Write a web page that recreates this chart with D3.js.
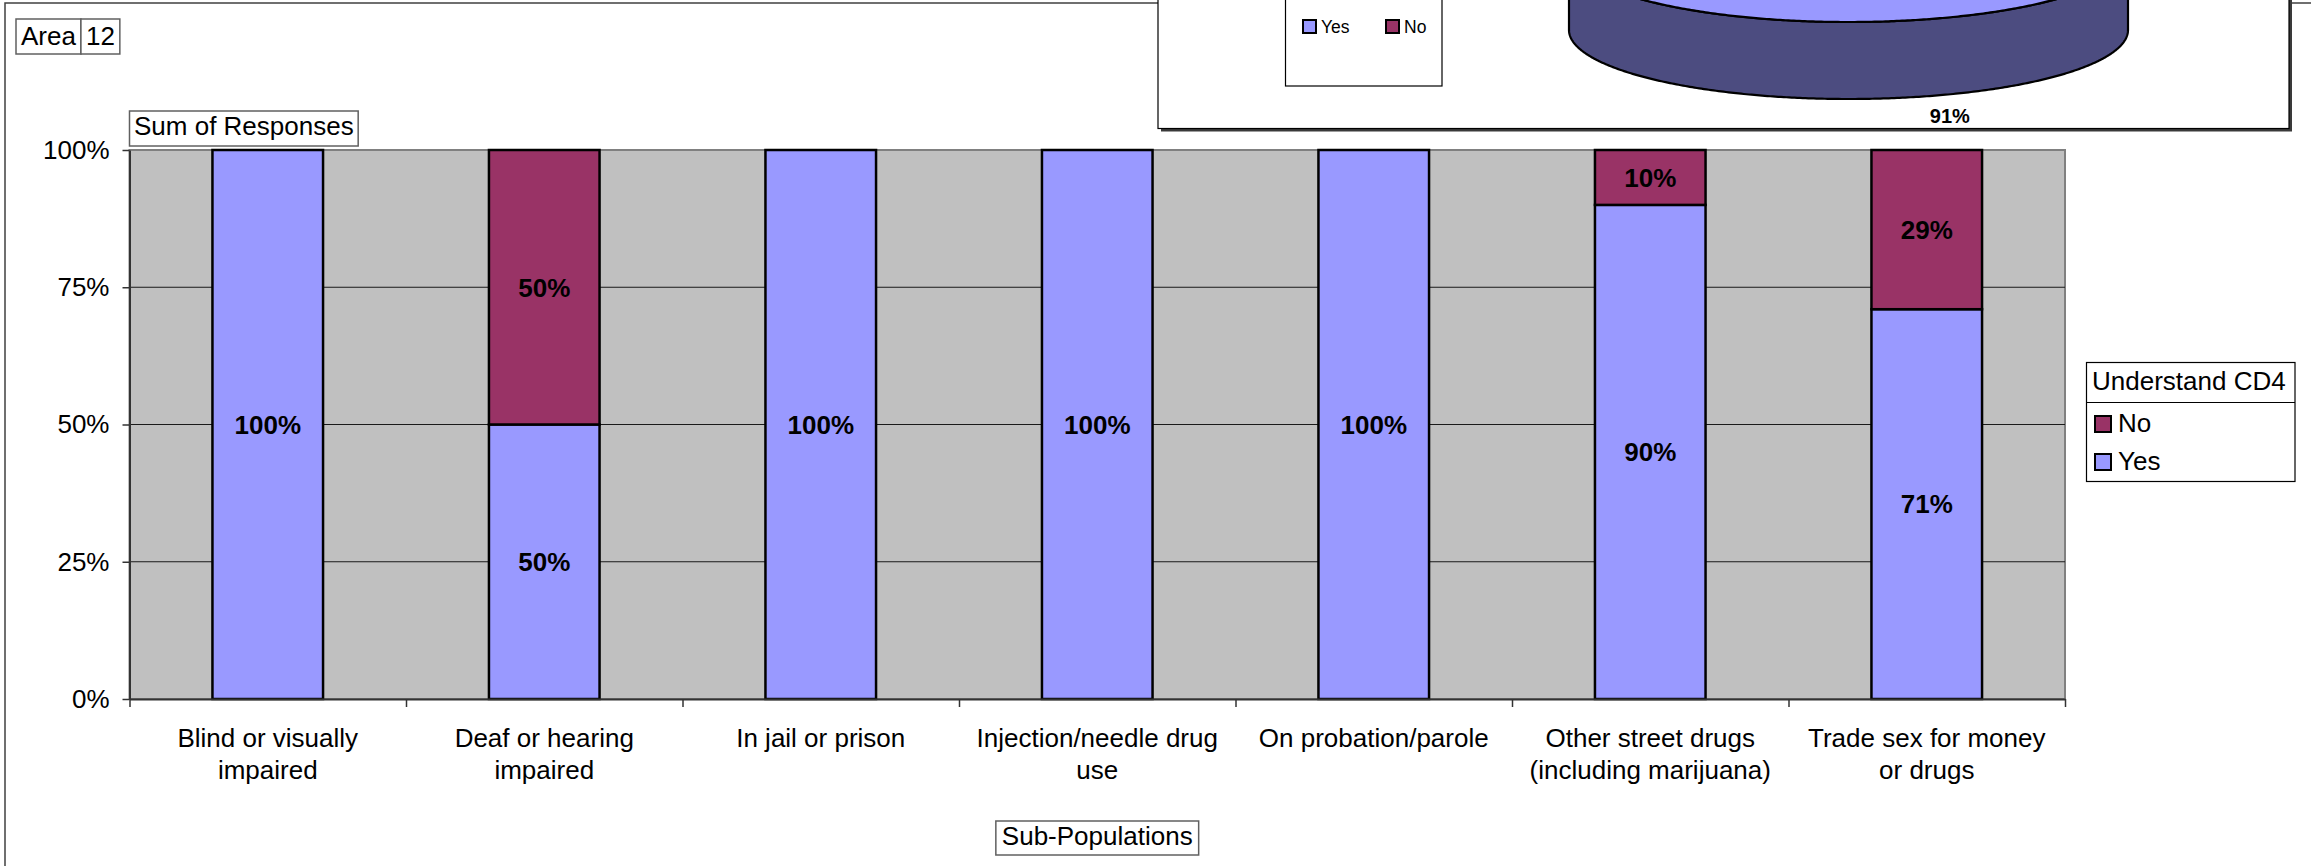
<!DOCTYPE html>
<html>
<head>
<meta charset="utf-8">
<script src="https://cdn.jsdelivr.net/npm/d3@7"></script>
<style>
  body { margin: 0; background: #fff; }
  svg { display: block; }
  text { font-family: "Liberation Sans", Arial, sans-serif; fill: #000; }
</style>
</head>
<body>
<svg id="chart" width="2311" height="866"></svg>
<script>
// ---- data ----
const categories = [
  "Blind or visually impaired",
  "Deaf or hearing impaired",
  "In jail or prison",
  "Injection/needle drug use",
  "On probation/parole",
  "Other street drugs (including marijuana)",
  "Trade sex for money or drugs"
];
const seriesKeys = ["Yes", "No"];
const yesValues = [100, 50, 100, 100, 100, 90, 71];
const noValues  = [0, 50, 0, 0, 0, 10, 29];
const yTicks = [0, 25, 50, 75, 100];
const seriesColors = ["#9999FF", "#993366"];

// summary pie (all respondents)
const pieLabels = ["Yes", "No"];
const pieValues = [91, 9];
const pieSideColors = ["#4C4C80", "#4D1A33"];

const pageField = ["Area", "12"];
const legendTitle = "Understand CD4";
const dataFieldTitle = "Sum of Responses";
const axisFieldTitle = "Sub-Populations";

// ---- layout ----
const svg = d3.select("#chart");
const W = 2311, H = 866;
const plot = { left: 129.5, right: 2065, top: 150, bottom: 699 };
const FONT = 26;

svg.append("rect").attr("width", W).attr("height", H).attr("fill", "#fff");

// outer chart frame
svg.append("rect")
  .attr("x", 5).attr("y", 3).attr("width", W + 10).attr("height", H + 10)
  .attr("fill", "none").attr("stroke", "#404040").attr("stroke-width", 1.5);

const rows = categories.map((c, i) => ({ cat: c, Yes: yesValues[i], No: noValues[i] }));
const stacked = d3.stack().keys(seriesKeys)(rows);

const x = d3.scaleBand().domain(categories)
  .range([plot.left, plot.right]).paddingInner(0.6).paddingOuter(0.3);
const xEdge = d3.scaleLinear().domain([0, categories.length]).range([plot.left, plot.right]);
const y = d3.scaleLinear().domain([0, 100]).range([plot.bottom, plot.top]);

// plot area
svg.append("rect")
  .attr("x", plot.left).attr("y", plot.top)
  .attr("width", plot.right - plot.left).attr("height", plot.bottom - plot.top)
  .attr("fill", "#C0C0C0").attr("stroke", "#808080").attr("stroke-width", 2);

// gridlines
svg.append("g").selectAll("line")
  .data(yTicks.filter(t => t > 0 && t < 100))
  .join("line")
  .attr("x1", plot.left).attr("x2", plot.right)
  .attr("y1", d => y(d)).attr("y2", d => y(d))
  .attr("stroke", "#1a1a1a").attr("stroke-width", 1.2);

// stacked bars
const layers = svg.append("g").selectAll("g")
  .data(stacked).join("g")
  .attr("fill", (d, i) => seriesColors[i]);

layers.selectAll("rect")
  .data(d => d.filter(s => s[1] - s[0] > 0))
  .join("rect")
  .attr("x", d => x(d.data.cat))
  .attr("width", x.bandwidth())
  .attr("y", d => y(d[1]))
  .attr("height", d => y(d[0]) - y(d[1]))
  .attr("stroke", "#000").attr("stroke-width", 2.5);

// segment value labels
layers.selectAll("text")
  .data(d => d.filter(s => s[1] - s[0] > 0))
  .join("text")
  .attr("x", d => x(d.data.cat) + x.bandwidth() / 2)
  .attr("y", d => (y(d[0]) + y(d[1])) / 2)
  .attr("dy", "0.36em")
  .attr("text-anchor", "middle")
  .attr("font-size", FONT).attr("font-weight", "bold")
  .style("fill", "#000")
  .text(d => Math.round(d[1] - d[0]) + "%");

// y axis
const yAxis = svg.append("g")
  .attr("transform", `translate(${plot.left},0)`)
  .call(d3.axisLeft(y).tickValues(yTicks).tickFormat(d => d + "%")
    .tickSize(7).tickSizeOuter(0).tickPadding(13));
yAxis.select(".domain").attr("stroke", "#333").attr("stroke-width", 2);
yAxis.selectAll(".tick line").attr("stroke", "#333").attr("stroke-width", 1.5);
yAxis.selectAll("text").attr("font-size", FONT)
  .attr("font-family", "Liberation Sans, Arial, sans-serif").style("fill", "#000");

// x axis (tick marks at category boundaries)
const xAxis = svg.append("g")
  .attr("transform", `translate(0,${plot.bottom})`)
  .call(d3.axisBottom(xEdge).tickValues(d3.range(categories.length + 1))
    .tickFormat("").tickSize(8).tickSizeOuter(0));
xAxis.select(".domain").attr("stroke", "#333").attr("stroke-width", 2);
xAxis.selectAll(".tick line").attr("stroke", "#333").attr("stroke-width", 1.5);

// category labels, wrapped to the category width
const maxLabelWidth = 258;
const catLabels = svg.append("g").selectAll("text")
  .data(categories).join("text")
  .attr("text-anchor", "middle")
  .attr("font-size", FONT)
  .attr("x", d => x(d) + x.bandwidth() / 2)
  .attr("y", plot.bottom + 48);

catLabels.each(function (d) {
  const t = d3.select(this);
  const cx = x(d) + x.bandwidth() / 2;
  const words = d.split(" ");
  let line = [];
  let tspan = t.append("tspan").attr("x", cx).attr("dy", 0);
  words.forEach(w => {
    line.push(w);
    tspan.text(line.join(" "));
    if (tspan.node().getComputedTextLength() > maxLabelWidth && line.length > 1) {
      line.pop();
      tspan.text(line.join(" "));
      line = [w];
      tspan = t.append("tspan").attr("x", cx).attr("dy", 32).text(w);
    }
  });
});

// boxed field labels
function fieldBox(parts, x0, baseline, padX, boxTop, boxH) {
  const g = svg.append("g");
  let cur = x0;
  parts.forEach(p => {
    const t = g.append("text").attr("x", cur + padX).attr("y", baseline)
      .attr("font-size", FONT).text(p);
    const w = t.node().getComputedTextLength();
    g.insert("rect", "text")
      .attr("x", cur).attr("y", boxTop)
      .attr("width", w + padX * 2).attr("height", boxH)
      .attr("fill", "#fff").attr("stroke", "#606060").attr("stroke-width", 1.5);
    cur += w + padX * 2;
  });
  return g;
}
fieldBox(pageField, 16, 45, 5, 19, 35);
fieldBox([dataFieldTitle], plot.left, 135, 4.5, 111, 35);
// axis field title centred under the plot
(function () {
  const g = svg.append("g");
  const cx = (plot.left + plot.right) / 2;
  const t = g.append("text").attr("x", cx).attr("y", 845)
    .attr("text-anchor", "middle").attr("font-size", FONT).text(axisFieldTitle);
  const w = t.node().getComputedTextLength();
  g.insert("rect", "text")
    .attr("x", cx - w / 2 - 6).attr("y", 821)
    .attr("width", w + 12).attr("height", 34)
    .attr("fill", "#fff").attr("stroke", "#606060").attr("stroke-width", 1.5);
})();

// series legend
const lg = svg.append("g");
lg.append("rect").attr("x", 2086.5).attr("y", 362.5).attr("width", 208.5).attr("height", 119)
  .attr("fill", "#fff").attr("stroke", "#000").attr("stroke-width", 1.2);
lg.append("line").attr("x1", 2086.5).attr("x2", 2295).attr("y1", 402.5).attr("y2", 402.5)
  .attr("stroke", "#000").attr("stroke-width", 1.2);
lg.append("text").attr("x", 2092).attr("y", 390).attr("font-size", FONT).text(legendTitle);
const legendItems = seriesKeys.map((k, i) => ({ key: k, color: seriesColors[i] })).reverse();
const li = lg.selectAll("g.item").data(legendItems).join("g")
  .attr("transform", (d, i) => `translate(2095,${416 + i * 38})`);
li.append("rect").attr("width", 16).attr("height", 16)
  .attr("fill", d => d.color).attr("stroke", "#000").attr("stroke-width", 2);
li.append("text").attr("x", 23).attr("y", 16).attr("font-size", FONT).text(d => d.key);

// ---- summary pie panel ----
const panel = { x: 1158, right: 2289, bottom: 128.5 };
svg.append("rect").attr("x", panel.x + 3).attr("y", -10)
  .attr("width", panel.right - panel.x).attr("height", panel.bottom + 13)
  .attr("fill", "#3a3a3a");
svg.append("rect").attr("x", panel.x).attr("y", -10)
  .attr("width", panel.right - panel.x).attr("height", panel.bottom + 10)
  .attr("fill", "#fff").attr("stroke", "#000").attr("stroke-width", 1.2);

// panel legend
const plg = svg.append("g");
plg.append("rect").attr("x", 1285.5).attr("y", -10).attr("width", 156.5).attr("height", 96)
  .attr("fill", "#fff").attr("stroke", "#000").attr("stroke-width", 1.2);
const pli = plg.selectAll("g.item").data(pieLabels).join("g")
  .attr("transform", (d, i) => `translate(${1303 + i * 83},20)`);
pli.append("rect").attr("width", 13).attr("height", 13)
  .attr("fill", (d, i) => seriesColors[i]).attr("stroke", "#000").attr("stroke-width", 2);
pli.append("text").attr("x", 18).attr("y", 13).attr("font-size", 17.5).text(d => d);

// 3-D pie: elliptical projection of d3.pie angles
const pie3 = { cx: 1848.5, rx: 279.5, ry: 69, cyTop: -47, depth: 77 };
const pieArcs = d3.pie().sort(null)(pieValues);
const proj = (a, cy) => [pie3.cx + pie3.rx * Math.sin(a), cy - pie3.ry * Math.cos(a)];
const sample = (a0, a1, cy) => {
  const n = Math.max(2, Math.ceil((a1 - a0) / 0.01));
  return d3.range(n + 1).map(k => proj(a0 + (a1 - a0) * k / n, cy));
};
const lineGen = d3.line();
const pg = svg.append("g");

// visible side walls (front half)
pieArcs.forEach((a, i) => {
  const s = Math.max(a.startAngle, Math.PI / 2);
  const e = Math.min(a.endAngle, 3 * Math.PI / 2);
  if (e <= s) return;
  const pts = sample(s, e, pie3.cyTop).concat(sample(s, e, pie3.cyTop + pie3.depth).reverse());
  pg.append("path").attr("d", lineGen(pts) + "Z")
    .attr("fill", pieSideColors[i]).attr("stroke", "#000").attr("stroke-width", 2.2)
    .attr("stroke-linejoin", "round");
});
// top faces
pieArcs.forEach((a, i) => {
  const pts = [[pie3.cx, pie3.cyTop]].concat(sample(a.startAngle, a.endAngle, pie3.cyTop));
  pg.append("path").attr("d", lineGen(pts) + "Z")
    .attr("fill", seriesColors[i]).attr("stroke", "#000").attr("stroke-width", 2.2)
    .attr("stroke-linejoin", "round");
});
// slice labels: only slices whose label falls inside the panel
pieArcs.forEach((a, i) => {
  const mid = (a.startAngle + a.endAngle) / 2;
  const k = 1.3;
  const ly = pie3.cyTop + pie3.depth - pie3.ry * k * Math.cos(mid);
  if (ly < 10) return;
  pg.append("text")
    .attr("x", pie3.cx + pie3.rx * k * Math.sin(mid))
    .attr("y", ly)
    .attr("dy", "0.36em").attr("text-anchor", "middle")
    .attr("font-size", 20).attr("font-weight", "bold")
    .text(pieValues[i] + "%");
});
</script>
</body>
</html>
